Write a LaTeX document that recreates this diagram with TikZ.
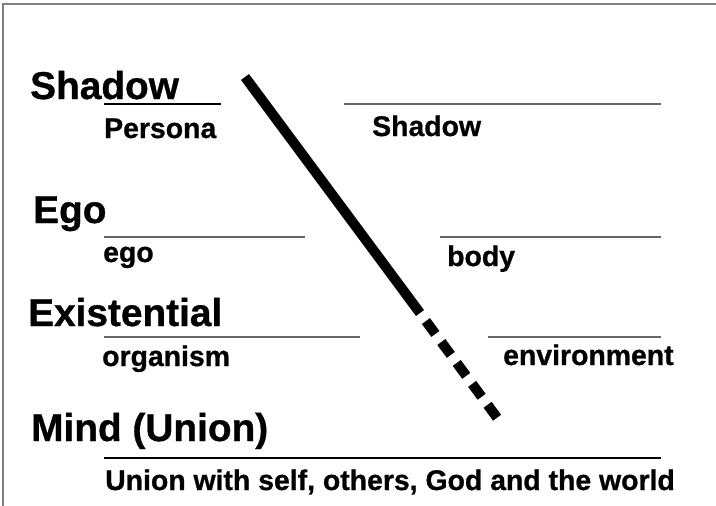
\documentclass[tikz,border=0pt]{standalone}
\usepackage{fontspec}
\setmainfont{Liberation Sans}[BoldFeatures={FakeBold=0.8}]
\begin{document}
\begin{tikzpicture}[x=1pt,y=-1pt,
  big/.style={anchor=base west,inner sep=0pt,font=\fontsize{38.8}{44}\selectfont\bfseries},
  small/.style={anchor=base west,inner sep=0pt,font=\fontsize{28.4}{32}\selectfont\bfseries},
  rule/.style={line width=1.2pt,black},
  grule/.style={line width=1.2pt,black!60},
  frame/.style={line width=1.5pt,black!50},
  thick/.style={line width=10pt,line cap=butt}]
\useasboundingbox (0,0) rectangle (716,506);
% frame
\coordinate (f1) at (3,506);
\coordinate (f2) at (3,4);
\coordinate (f3) at (716,4);
\draw[frame] (f1) -- (f2) -- (f3);
% big labels
\node[big] (shadowbig) at (30,99) {Shadow};
\node[big] (egobig) at (33,223) {Ego};
\node[big] (exist) at (28,326) {Existential};
\node[big] (mind) at (31,441) {Mind (Union)};
% small labels
\node[small] (persona) at (104,138) {Persona};
\node[small] (shadowsm) at (372,136) {Shadow};
\node[small] (egosm) at (103,262) {ego};
\node[small] (body) at (447,266) {body};
\node[small] (organism) at (102,366) {organism};
\node[small] (env) at (503,365) {environment};
\node[small] (union) at (105,490) {Union with self, others, God and the world};
% rules
\coordinate (r1a) at (104,104); \coordinate (r1b) at (221,104);
\coordinate (r1c) at (344,104); \coordinate (r1d) at (661,104);
\coordinate (r2a) at (104,237); \coordinate (r2b) at (305,237);
\coordinate (r2c) at (440,237); \coordinate (r2d) at (661,237);
\coordinate (r3a) at (104,337); \coordinate (r3b) at (360,337);
\coordinate (r3c) at (488,337); \coordinate (r3d) at (661,337);
\coordinate (r4a) at (104,458); \coordinate (r4b) at (661,458);
\draw[rule] (r1a) -- (r1b);
\draw[grule] (r1c) -- (r1d);
\draw[grule] (r2a) -- (r2b);
\draw[grule] (r2c) -- (r2d);
\draw[grule] (r3a) -- (r3b);
\draw[grule] (r3c) -- (r3d);
\draw[rule] (r4a) -- (r4b);
% diagonal
\coordinate (dtop) at (245,77);
\coordinate (dmid) at (420,313);
\coordinate (dbot) at (498,419);
\draw[thick] (dtop) -- (dmid);
\draw[thick,dash pattern=on 16pt off 10pt,dash phase=16pt] (dmid) -- (dbot);
\end{tikzpicture}
\end{document}
